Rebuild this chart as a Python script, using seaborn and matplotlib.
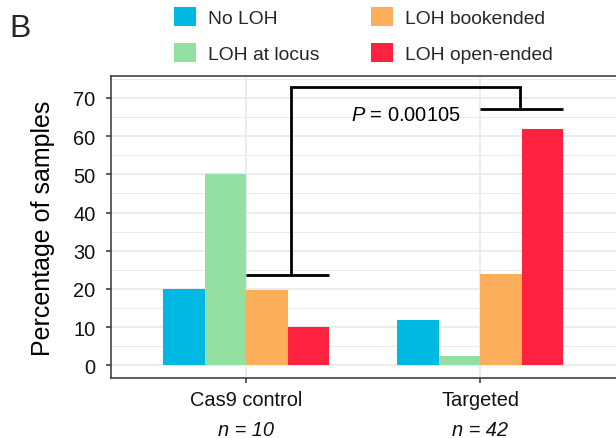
import matplotlib
matplotlib.use("Agg")
import matplotlib.pyplot as plt
import seaborn as sns
import pandas as pd
from matplotlib.patches import Patch
from matplotlib.transforms import blended_transform_factory

# ---- data ----
groups = ["Cas9 control", "Targeted"]
n_labels = ["n = 10", "n = 42"]
loh_types = ["No LOH", "LOH at locus", "LOH bookended", "LOH open-ended"]
cas9_pct = [20.0, 50.0, 19.8, 10.0]
targeted_pct = [11.9, 2.38, 23.8, 61.9]
colors = ["#00B9E2", "#94DFA2", "#FDAE5B", "#FF2140"]
p_label = "0.00105"
bracket_low = [23.7, 67.1]   # heights of the two bracket feet
bracket_top = 72.8
yticks = [0, 10, 20, 30, 40, 50, 60, 70]

df = pd.DataFrame({
    "group": [g for g in groups for _ in loh_types],
    "type": loh_types * len(groups),
    "pct": cas9_pct + targeted_pct,
})

sns.set_theme(style="white")
plt.rcParams["font.family"] = ["Liberation Sans", "DejaVu Sans"]
plt.rcParams["mathtext.fontset"] = "custom"
plt.rcParams["mathtext.rm"] = "Liberation Sans"
plt.rcParams["mathtext.it"] = "Liberation Sans:italic"

fig = plt.figure(figsize=(6.16, 4.39), dpi=100)
ax = fig.add_axes([110.7 / 616, (439 - 379.3) / 439, 1 - 110.7 / 616, (379.3 - 77.3) / 439])

bar_width = 0.71
sns.barplot(data=df, x="group", y="pct", hue="type", hue_order=loh_types,
            order=groups, palette=colors, width=bar_width, gap=0,
            saturation=1, legend=False, ax=ax, zorder=3, linewidth=0)

ax.set_xlim(-0.58, 1.58)
ax.set_ylim(-3.40, 75.67)

# grid
ax.set_yticks(yticks)
ax.set_yticks([y + 5 for y in yticks], minor=True)
ax.grid(axis="y", which="major", color="#EBEBEB", linewidth=1.3, zorder=0)
ax.grid(axis="y", which="minor", color="#EBEBEB", linewidth=0.7, zorder=0)
ax.grid(axis="x", which="major", color="#EBEBEB", linewidth=1.3, zorder=0)
ax.set_axisbelow(True)

for side in ["left", "bottom", "top"]:
    ax.spines[side].set_visible(True)
    ax.spines[side].set_color("#333333")
    ax.spines[side].set_linewidth(1.1)
ax.spines["right"].set_visible(False)

ax.tick_params(axis="both", which="major", length=3.5, width=1.1, color="#333333",
               labelsize=14.4, labelcolor="#111111", left=True, bottom=True)
ax.tick_params(axis="y", which="minor", length=0)
ax.tick_params(axis="y", pad=7.3)
ax.tick_params(axis="x", pad=5)
ax.set_xlabel("")
ax.set_ylabel("Percentage of samples", fontsize=18, color="black")
ax.yaxis.set_label_coords(-0.11, 0.5)

# n labels
tr = blended_transform_factory(ax.transData, fig.transFigure)
for i, nl in enumerate(n_labels):
    ax.text(i, 1 - 431 / 439, nl, transform=tr, ha="center", va="center",
            fontsize=14.4, fontstyle="italic", color="#111111")

# significance bracket
half = bar_width / 2
foot_offsets = [0.19, 0.17]
foot_x = []
for i in range(len(groups)):
    ax.plot([i, i + half], [bracket_low[i]] * 2, color="black", lw=2, zorder=4,
            solid_capstyle="butt")
    fx = i + foot_offsets[i]
    foot_x.append(fx)
    ax.plot([fx, fx], [bracket_low[i], bracket_top], color="black", lw=2, zorder=4,
            solid_capstyle="butt")
ax.plot(foot_x, [bracket_top] * 2, color="black", lw=2, zorder=4,
        solid_capstyle="projecting")
ax.text(sum(foot_x) / 2, 65.6, r"$P$ = " + p_label, ha="center", va="center",
        fontsize=14.4, color="black")

# legend
handles = [Patch(facecolor=c, edgecolor="none") for c in colors]
fig.legend(handles, loh_types, ncol=2, loc="upper left",
           bbox_to_anchor=(174.3 / 616, 1 - 8 / 439), frameon=False,
           fontsize=13.9, handlelength=1.14, handleheight=1.16,
           handletextpad=0.62, columnspacing=2.65, labelspacing=0.82,
           borderpad=0, borderaxespad=0)

fig.text(9 / 616, 1 - 37.3 / 439, "B", fontsize=23, va="baseline", ha="left")

fig.savefig("out.png", dpi=100)
